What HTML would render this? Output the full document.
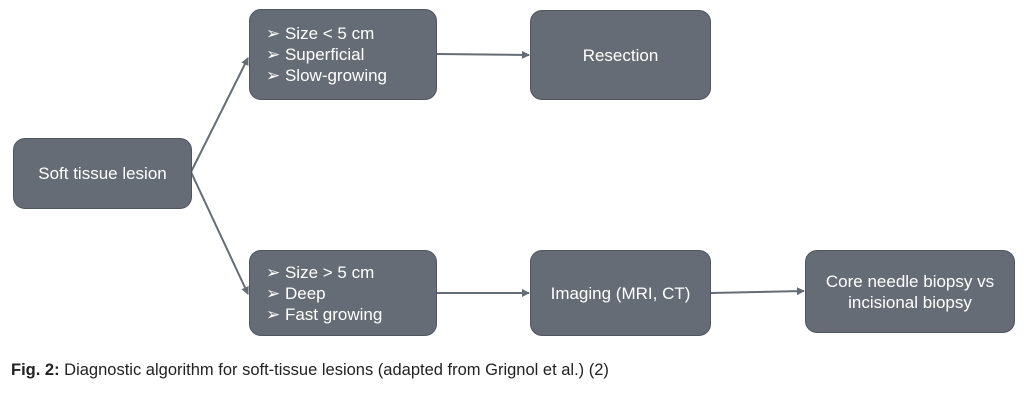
<!DOCTYPE html>
<html><head><style>
body{margin:0;width:1024px;height:401px;background:#fff;position:relative;overflow:hidden;font-family:"Liberation Sans",sans-serif}
.b{position:absolute;background:#656c75;border:1px solid #50565e;border-radius:12px;color:#fff;font-size:17px;box-sizing:border-box;display:flex;align-items:center;justify-content:center;text-align:center;line-height:21px}
.l{justify-content:flex-start;text-align:left;padding-left:16px}
.cap{position:absolute;left:11px;top:361px;font-size:16.5px;color:#222;font-family:"Liberation Sans Narrow","Liberation Sans",sans-serif}
</style></head><body>
<svg width="1024" height="401" style="position:absolute;left:0;top:0">
<defs><marker id="a" markerWidth="8" markerHeight="8" refX="7" refY="4" orient="auto" markerUnits="userSpaceOnUse"><path d="M0,0L8,4L0,8z" fill="#656c75"/></marker></defs>
<g stroke="#656c75" stroke-width="2" fill="none">
<line x1="191" y1="172" x2="248" y2="58" marker-end="url(#a)"/>
<line x1="191" y1="172" x2="248" y2="294" marker-end="url(#a)"/>
<line x1="437" y1="54" x2="529" y2="55" marker-end="url(#a)"/>
<line x1="437" y1="293" x2="529" y2="293" marker-end="url(#a)"/>
<line x1="711" y1="293" x2="804" y2="291" marker-end="url(#a)"/>
</g></svg>
<div class="b" style="left:13px;top:138px;width:179px;height:71px">Soft tissue lesion</div>
<div class="b l" style="left:249px;top:9px;width:188px;height:91px">➢ Size &lt; 5 cm<br>➢ Superficial<br>➢ Slow-growing</div>
<div class="b" style="left:530px;top:10px;width:181px;height:90px">Resection</div>
<div class="b l" style="left:249px;top:250px;width:188px;height:86px">➢ Size &gt; 5 cm<br>➢ Deep<br>➢ Fast growing</div>
<div class="b" style="left:530px;top:250px;width:181px;height:86px">Imaging (MRI, CT)</div>
<div class="b" style="left:805px;top:250px;width:210px;height:83px">Core needle biopsy vs<br>incisional biopsy</div>
<div class="cap"><b>Fig. 2:</b> Diagnostic algorithm for soft-tissue lesions (adapted from Grignol et al.) (2)</div>
</body></html>
